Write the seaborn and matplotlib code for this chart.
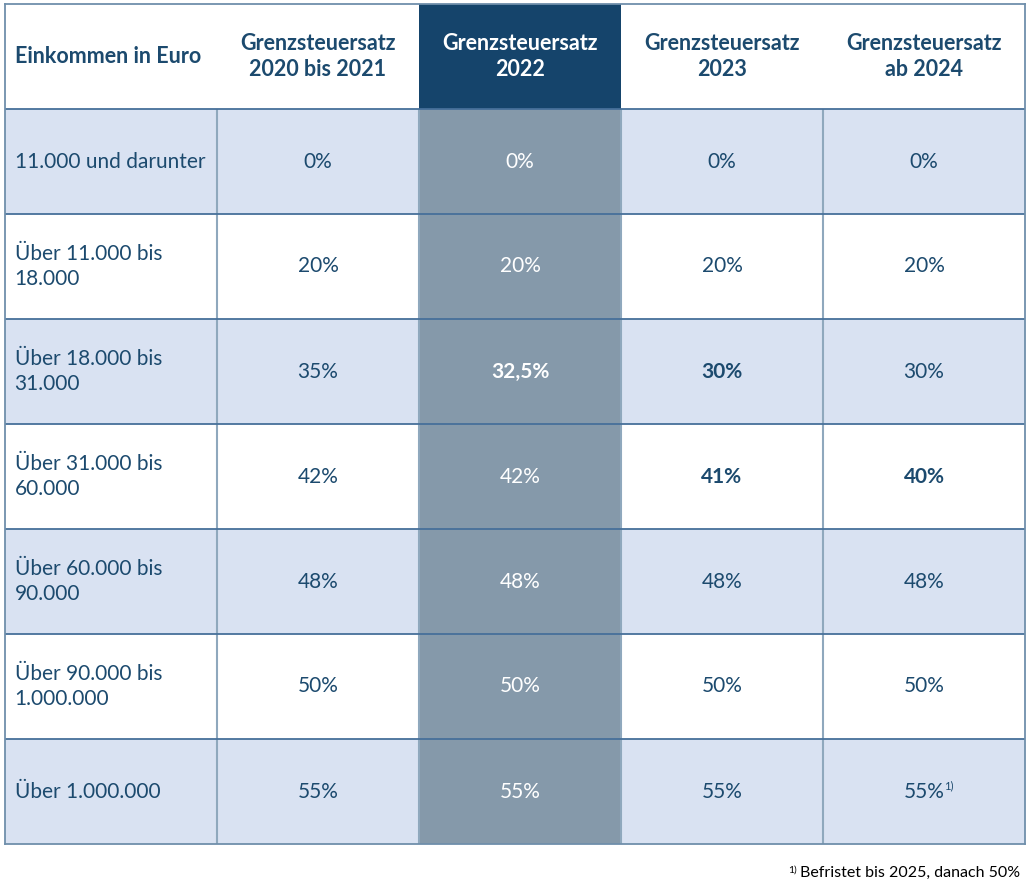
import numpy as np
import matplotlib
matplotlib.use("Agg")
import matplotlib.pyplot as plt
from matplotlib.colors import ListedColormap
import seaborn as sns

# table content
headers = ["Einkommen in Euro", "Grenzsteuersatz\n2020 bis 2021", "Grenzsteuersatz\n2022",
           "Grenzsteuersatz\n2023", "Grenzsteuersatz\nab 2024"]
income = ["11.000 und darunter", "Über 11.000 bis\n18.000", "Über 18.000 bis\n31.000",
          "Über 31.000 bis\n60.000", "Über 60.000 bis\n90.000", "Über 90.000 bis\n1.000.000",
          "Über 1.000.000"]
rate_2020 = [0, 20, 35, 42, 48, 50, 55]
rate_2022 = [0, 20, 32.5, 42, 48, 50, 55]
rate_2023 = [0, 20, 30, 41, 48, 50, 55]
rate_2024 = [0, 20, 30, 40, 48, 50, 55]
footnote = "Befristet bis 2025, danach 50%"

rates = [rate_2020, rate_2022, rate_2023, rate_2024]
n_rows = len(income)
n_cols = len(headers)
hi_col = 2  # 2022 column highlighted

navy = "#15446b"
txt = "#1c4a6e"
# colour codes: 0 white, 1 light blue, 2 grey-blue (2022 data), 3 navy header
codes = np.zeros((n_rows + 1, n_cols))
codes[0, hi_col] = 3
for i in range(n_rows):
    codes[i + 1, :] = 1 if i % 2 == 0 else 0
    codes[i + 1, hi_col] = 2
cmap = ListedColormap(["#ffffff", "#d9e2f2", "#8599aa", navy])

fig = plt.figure(figsize=(10.31, 8.94), dpi=100)
ax = fig.add_axes([5 / 1031, 50 / 894, 1020 / 1031, 840 / 894])
sns.heatmap(codes, ax=ax, cmap=cmap, vmin=-0.5, vmax=3.5, cbar=False,
            xticklabels=False, yticklabels=False)

# first column a little wider than the others
w0 = 212 / 1020 * n_cols
w1 = (n_cols - w0) / (n_cols - 1)


def fwd(x):
    x = np.asarray(x, dtype=float)
    return np.where(x <= 1, x * w0, w0 + (x - 1) * w1)


def inv(x):
    x = np.asarray(x, dtype=float)
    return np.where(x <= w0, x / w0, 1 + (x - w0) / w1)


ax.set_xscale("function", functions=(fwd, inv))
ax.set_xlim(0, n_cols)
ax.set_xticks([])
ax.minorticks_off()

font = "Lato"

# grid lines
ax.vlines(range(1, n_cols), 1, n_rows + 1, color="#8fa8bd", lw=1.5)
ax.hlines(range(1, n_rows + 1), 0, n_cols, color="#46709a", lw=1.3)
for s in ax.spines.values():
    s.set_visible(True)
    s.set_color("#6f8fab")
    s.set_linewidth(1.3)

# header
for j, h in enumerate(headers):
    c = "white" if j == hi_col else txt
    if j == 0:
        ax.text(0.045, 0.5, h, ha="left", va="center", fontsize=15.5, fontweight="bold",
                color=c, family=font)
    else:
        ax.text(j + 0.5, 0.5, h, ha="center", va="center", fontsize=15.5, fontweight="bold",
                color=c, family=font, linespacing=1.3)

# body
fig.canvas.draw()
renderer = fig.canvas.get_renderer()
for i in range(n_rows):
    y = i + 1.5
    ax.text(0.045, y, income[i], ha="left", va="center", fontsize=15, color=txt,
            family=font, linespacing=1.35)
    for k, col in enumerate(rates):
        j = k + 1
        v = col[i]
        label = f"{v:g}%".replace(".", ",")
        bold = k > 0 and v != rates[k - 1][i]
        c = "white" if j == hi_col else txt
        t = ax.text(j + 0.5, y, label, ha="center", va="center", fontsize=15,
                    color=c, family=font, fontweight="bold" if bold else "normal")
        if k == len(rates) - 1 and i == n_rows - 1:
            bb = t.get_window_extent(renderer).transformed(ax.transData.inverted())
            ax.annotate("1)", xy=(bb.x1, bb.y1), xytext=(-0.5, 1), textcoords="offset points",
                        ha="left", va="top", fontsize=8, color=txt, family=font)

# footnote
ft = fig.text(1020 / 1031, 14 / 894, footnote, ha="right", va="bottom", fontsize=11.5,
              color="black", family=font)
fb = ft.get_window_extent(renderer).transformed(fig.transFigure.inverted())
fig.text(fb.x0 - 0.003, fb.y1, "1)", ha="right", va="top", fontsize=7.5,
         color="black", family=font)

fig.savefig("out.png", dpi=100)
